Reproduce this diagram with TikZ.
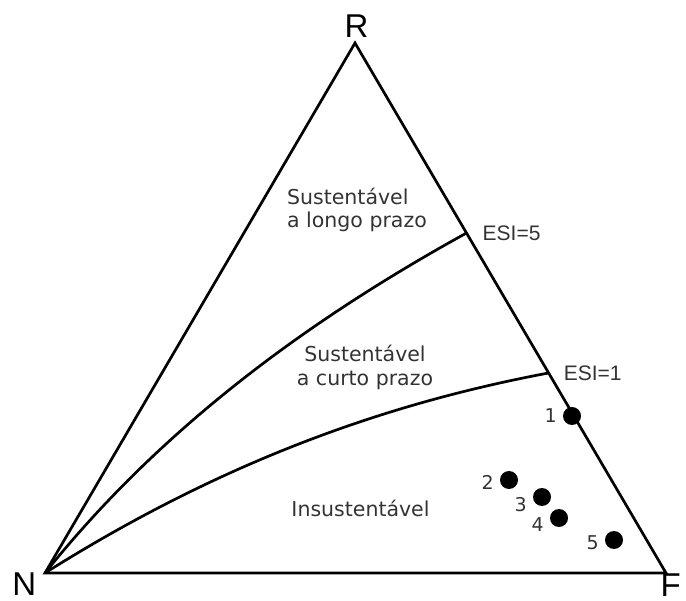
\documentclass[tikz,border=0pt]{standalone}
\usepackage{fontspec}
\setmainfont{DejaVu Sans}
\newfontfamily\arialfont{Liberation Sans}
\usepackage{xcolor}
\usetikzlibrary{positioning, calc}
\definecolor{txtgray}{HTML}{333333}

\begin{document}
\begin{tikzpicture}[
    x=1pt, y=-1pt,
    edge/.style={line width=2.7pt},
    zone/.style={text=txtgray, inner sep=0pt, font=\fontsize{20.5}{23.5}\selectfont},
    vtx/.style={inner sep=0pt, font=\arialfont\fontsize{33}{33}\selectfont},
    esi/.style={inner sep=0pt, text=txtgray, font=\arialfont\fontsize{21}{21}\selectfont},
    sample/.style={circle, fill, minimum size=18pt, inner sep=0pt},
    samplelbl/.style={inner sep=0pt, text=txtgray, font=\fontsize{19}{19}\selectfont}
  ]
  \useasboundingbox (0,0) rectangle (686,601);
  \coordinate (N) at (45,573);
  \coordinate (F) at (666,573);
  \coordinate (R) at (355,43);
  \coordinate (E5) at ($(R)!0.3585!(F)$);
  \coordinate (E1) at ($(R)!0.6226!(F)$);
  \draw[edge] (N) -- (F) -- (R) -- cycle;
  \draw[edge] (N) .. controls (165,423) and (316,316) .. (E5);
  \draw[edge] (N) .. controls (215,466) and (378,405) .. (E1);
  \node[vtx, anchor=base] (lR) at (356.5,38) {R};
  \node[vtx, anchor=base west] (lN) at (12.3,595) {N};
  \node[vtx, anchor=base east] (lF) at (681,596) {F};
  \node[esi, right=16pt of E5] (esi5) {ESI=5};
  \node[esi, right=15pt of E1] (esi1) {ESI=1};
  \node[zone, align=left] (longo) at (357,210) {Sustentável\\a longo prazo};
  \node[zone, align=center] (curto) at (365,367.5) {Sustentável\\a curto prazo};
  \node[zone, anchor=base] (insust) at (360.5,517) {Insustentável};
  \node[sample] (p1) at (572,416) {};
  \node[sample] (p2) at (509,480) {};
  \node[sample] (p3) at (542,497) {};
  \node[sample] (p4) at (559,518) {};
  \node[sample] (p5) at (614,540) {};
  \node[samplelbl, left=6pt of p1] {1};
  \node[samplelbl, left=6pt of p2, yshift=-2pt] {2};
  \node[samplelbl, left=6pt of p3, yshift=-8pt] {3};
  \node[samplelbl, left=6pt of p4, yshift=-7pt] {4};
  \node[samplelbl, left=6pt of p5, yshift=-3pt] {5};
\end{tikzpicture}
\end{document}
